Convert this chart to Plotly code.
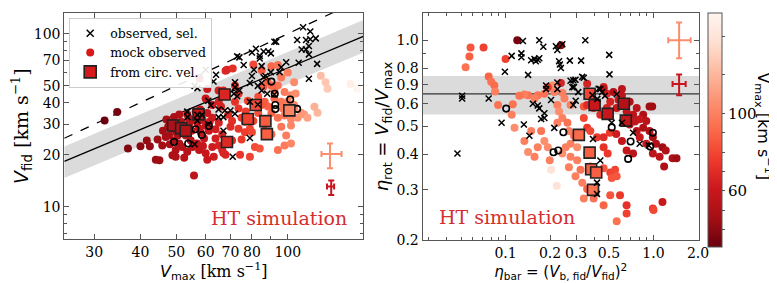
import plotly.graph_objects as go
import numpy as np

# ---------------- data: left panel (Vmax vs Vfid) ----------------
obs_vmax = [110,115,112,115,119,106,114,112,109,114,107,120,114,99,96,95,92,90,88.6,84,84,82,80,74,76,81,85,86,85,90,87,80,79,83,85,88,92,83,79,74,72,71.5,73,72,70,67.6,67,72,65,65,60,64,63,56,57,61,62,58.6,57,53.5,53.6,57,61,67,79,56,71,73,86,93]
obs_vfid = [109,103,92,93,94,92,85,81,81,76,68,67,55,68.5,64,60,90,77,79,72,74.5,82,78,73,66,62,65,56,52,60,57,57,52,50,47,45,44.6,39,40.5,47,49,45,43.5,52.5,36,36,33,34.5,33,36.5,62,58,53,50,48.5,41,38.6,34,34,35.5,33,31.5,30,27.5,25,23,19.5,74,79,90]

mock_vmax = [32,34.6,37,40,41.6,42.4,44,45,55.8,
             48.3,48.8,47.8,49.3,50.4,50.9,49.8,51.9,53.5,55.3,54.7,53,52.4,54.1,55.3,56.9,58.8,60,61.2,58.2,59.4,56.9,57.6,60,62.5,63.8,65.1,66.5,63.8,65.1,62.5,60.6,56.4,53.5,50.9,49.3,48.8,49.8,45.8,46.8,63.1,67.9,66.5,47.5,51.5,52,55,57.5,50,54,58,61.5,48,46,44.5,47,52.5,59,
             60,62.5,65.1,68.5,71,67,73.6,72,73.6,75,76.6,70.7,73.6,79,80.7,83.2,76.6,80,81.5,84,79,74.3,67,70.7,60.6,57.8,72,80.7,85,67.9,65,60.6,69,66,77,78,70,75,
             90.3,94,96,94,98,102,100,104,96,92,88.4,86.6,90.3,94,98,102,106.4,110.8,104,108.6,120.3,113,102,96,99,98,94,102,90.3,86.6,85,83.2,85.8,90.3,100,104,105,122.8,128,126.5,147.7,153.8,118,92,88,97]
mock_vfid = [31.5,35.3,21.7,22.4,24.2,22.4,18.7,18.6,15.2,
             30.6,28.1,25.8,24.2,25.8,23.2,21.3,22.2,20.8,22.2,24.2,25.8,28.1,30,31.8,30.8,31.8,29.4,27.5,26.9,24.8,23.2,21.3,20.4,22.2,24.8,22.6,26.3,28.1,30.6,32.7,34.8,35.6,34.2,34.2,33,19.9,19.5,22.6,25.3,19.5,20,21.3,29,31,26.8,27.5,28.5,27,32.5,36.5,31,23,27.5,24.5,32,19.2,22.5,
             42.3,38.8,40.5,62,63,47,45,40.5,37,32.7,31,31.3,28.3,28.3,31.3,34.8,27,27,22.2,21.7,19.5,20,20.5,24.2,18.7,55.2,50.2,66.5,61.6,61.2,47,48,34,38,35.5,41,29,24.5,
             65,66,55.8,50.2,46.1,44.2,40.5,38.8,40.5,42.3,38,40.5,34.8,32.7,33.7,32.2,32.7,34.2,37.2,35,35,32.7,29.5,29,25.8,22.6,21.3,23.2,26.3,27.5,38.8,43.2,49.4,50.2,59.7,52.5,45.1,57.2,48.1,52.5,51.2,48.1,37.9,47,53,37]

ring_vmax = [49.3,53.8,56.3,58.6,61.2,90.3,92.2,101.5,92.5,92.5,106]
ring_vfid = [23.7,23.2,28.1,26,29.3,52.9,45,41.7,38.8,36.7,36.8]

circ_vmax = [49,51.5,53,57.4,67.5,68.5,78,81.9,87,87.8,101]
circ_vfid = [29.5,28.5,27.5,34.2,44.6,23.7,32.2,38.8,31.3,26.3,36.1]

line_vmax = [24.9, 160]
one_to_one = [24.9, 160]
fit_vfid = [18.3, 96.6]
band_lo = [14.7, 78]
band_hi = [22.3, 120]

err_vmax = [130, 131]
err_vfid = [20.2, 13.1]
err_vmax_plus = [9.7, 2.4]
err_vmax_minus = [6.7, 3.4]
err_vfid_plus = [3.0, 1.1]
err_vfid_minus = [3.5, 1.4]

# ---------------- data: right panel (eta_bar vs eta_rot) ----------------
obs_ebar = [0.0473,0.0509,0.0509,0.0769,0.094,0.099,0.11,0.128,0.128,0.131,0.133,0.142,0.149,0.157,0.16,0.165,0.169,0.169,0.18,0.153,0.145,0.165,0.169,0.174,0.183,0.188,0.188,0.203,0.219,0.224,0.23,0.233,0.2366,0.242,0.224,0.224,0.2135,0.183,0.272,0.275,0.287,0.29,0.297,0.324,0.346,0.33,0.338,0.31,0.298,0.287,0.283,0.426,0.437,0.386,0.417,0.45,0.47,0.502,0.504,0.564,0.522,0.612,0.728,0.807,0.93,0.39,0.437,0.415,0.415]
obs_erot = [0.402,0.64,0.626,0.626,0.515,0.776,0.882,0.90,0.873,0.995,0.508,0.757,0.851,0.86,0.845,0.855,1.0,0.866,0.949,0.60,0.464,0.592,0.578,0.531,0.556,0.675,0.695,0.618,0.953,0.925,0.845,0.823,0.80,0.969,0.712,0.675,0.494,0.535,0.849,0.722,0.725,0.686,0.728,0.849,1.0,0.745,0.74,0.659,0.615,0.594,0.686,0.677,0.675,0.643,0.624,0.66,0.64,0.889,0.76,0.648,0.515,0.515,0.475,0.435,0.429,0.452,0.38,0.318,0.29]

mock_ebar = [0.058,0.057,0.0537,0.071,0.1,0.0769,0.08,0.084,0.085,0.089,0.112,0.11,0.115,0.134,0.149,0.142,0.165,0.157,0.183,0.174,0.193,0.199,0.203,0.222,0.2135,0.208,0.242,0.25,0.275,0.142,0.134,0.124,0.165,0.157,0.183,0.224,0.23,0.242,0.262,0.224,0.268,0.29,0.275,0.305,0.255,0.242,0.275,0.305,0.268,0.321,0.297,0.33,0.356,0.338,0.394,0.356,0.374,
             0.338,0.356,0.374,0.415,0.46,0.507,0.46,0.49,0.437,0.484,0.564,0.51,0.338,0.356,0.394,0.46,0.484,0.356,0.51,0.55,0.564,0.522,0.594,0.658,0.658,0.564,0.46,0.51,0.2366,0.193,0.46,
             0.12,0.2366,
             0.46,0.536,0.612,0.69,0.77,0.852,0.94,0.894,0.807,0.728,0.658,0.624,0.69,0.77,0.852,0.94,0.99,1.04,1.15,1.21,1.345,1.43,1.18,1.1,0.99,0.894,0.807,0.612,0.658,0.728,0.612,0.98,1.15,0.99,1.0,0.58,0.56,0.75]
mock_erot = [0.944,0.877,0.805,0.944,0.86,0.747,0.716,0.695,0.662,0.594,0.597,0.549,0.495,0.445,0.482,0.407,0.423,0.392,0.445,0.482,0.423,0.381,0.353,0.31,0.659,0.695,0.655,0.626,0.594,0.643,0.646,0.64,0.643,0.626,0.65,0.594,0.564,0.535,0.515,0.515,0.482,0.464,0.435,0.423,0.423,0.402,0.392,0.381,0.36,0.353,0.335,0.318,0.302,0.28,0.28,0.402,0.362,
             0.535,0.495,0.482,0.458,0.458,0.475,0.423,0.402,0.549,0.58,0.58,0.61,0.587,0.594,0.58,0.686,0.65,0.705,0.345,0.353,0.335,0.33,0.287,0.265,0.248,0.233,0.265,0.287,0.709,0.685,0.357,
             1.0,0.96,
             0.675,0.659,0.64,0.61,0.58,0.549,0.587,0.522,0.53,0.549,0.564,0.594,0.508,0.482,0.495,0.482,0.458,0.435,0.423,0.412,0.387,0.387,0.362,0.392,0.402,0.435,0.458,0.445,0.412,0.402,0.675,0.587,0.272,0.258,0.255,0.62,0.47,0.52]
mock_vmax_r = [85,88,95,78,78,90,95,92,100,95,95,100,105,100,100,105,100,100,105,95,105,100,140,140,100,105,100,100,100,95,100,95,95,100,95,100,105,100,95,100,100,95,100,105,100,105,100,100,100,95,100,100,90,100,95,95,90,
               80,75,80,75,70,75,72,75,70,65,60,65,85,70,72,65,68,65,78,80,85,85,75,72,78,95,90,85,65,75,85,
               35,40,
               55,50,55,50,55,50,45,55,60,55,55,60,55,55,50,50,48,50,45,50,50,45,50,55,55,60,60,58,60,55,55,45,60,75,80,62,62,58]

ring_ebar = [0.101,0.246,0.211,0.227,0.522,0.7,0.674,0.95,0.99]
ring_erot = [0.577,0.477,0.406,0.412,0.496,0.443,0.385,0.425,0.475]

circ_ebar = [0.37,0.4,0.63,0.49,0.65,0.313,0.37,0.379,0.41,0.39]
circ_erot = [0.65,0.594,0.6,0.553,0.524,0.467,0.405,0.354,0.345,0.3]
circ_vmax_r = [80,60,52,60,58,92,88,88,88,95]

eta_rot_fit = [0.65]
eta_rot_band = [0.55, 0.75]

err_ebar = [1.49, 1.49]
err_erot = [1.0, 0.703]
err_ebar_plus = [0.293, 0.16]
err_ebar_minus = [0.231, 0.145]
err_erot_plus = [0.154, 0.057]
err_erot_minus = [0.134, 0.06]

# ---------------- styling ----------------
reds_r = [[0, '#67000d'], [0.125, '#a50f15'], [0.25, '#cb181d'], [0.375, '#ef3b2c'],
          [0.5, '#fb6a4a'], [0.625, '#fc9272'], [0.75, '#fcbba1'], [0.875, '#fee0d2'], [1, '#fff5f0']]
CMIN, CMAX = 31, 152
SERIF = 'DejaVu Serif'
SANS = 'DejaVu Sans'
ERR_COLORS = ['#fc8d6d', '#c8141e']
DOT = 8

fig = go.Figure()

# left panel band + lines
fig.add_trace(go.Scatter(x=line_vmax, y=band_lo, mode='lines', line=dict(width=0), showlegend=False,
                         xaxis='x', yaxis='y', hoverinfo='skip'))
fig.add_trace(go.Scatter(x=line_vmax, y=band_hi, mode='lines', line=dict(width=0), fill='tonexty',
                         fillcolor='rgba(190,190,190,0.55)', showlegend=False, xaxis='x', yaxis='y'))
fig.add_trace(go.Scatter(x=line_vmax, y=fit_vfid, mode='lines', line=dict(color='black', width=1.3),
                         showlegend=False, xaxis='x', yaxis='y'))
fig.add_trace(go.Scatter(x=line_vmax, y=one_to_one, mode='lines', line=dict(color='black', width=1.3, dash='dash'),
                         showlegend=False, xaxis='x', yaxis='y'))

def mock(x, y, c, ax, ay, cbar=False):
    m = dict(size=DOT, color=c, colorscale=reds_r, cmin=CMIN, cmax=CMAX, line=dict(width=0))
    if cbar:
        m['showscale'] = True
        m['colorbar'] = dict(x=709/777, xanchor='left', y=1-5/283, yanchor='top', len=234, lenmode='pixels',
                             xpad=0, ypad=0,
                             thickness=14, thicknessmode='pixels', outlinewidth=1, outlinecolor='#555',
                             tickvals=[40, 50, 60, 70, 80, 90, 100, 120, 140],
                             ticktext=['', '', '60', '', '', '', '100', '', ''], ticks='outside', ticklen=3,
                             tickcolor='#555',
                             tickfont=dict(family=SERIF, size=15, color='black'))
    return go.Scatter(x=x, y=y, mode='markers', marker=m, showlegend=False, xaxis=ax, yaxis=ay)

fig.add_trace(mock(mock_vmax, mock_vfid, mock_vmax, 'x', 'y'))
fig.add_trace(go.Scatter(x=ring_vmax, y=ring_vfid, mode='markers',
                         marker=dict(symbol='circle-open', size=6.5, color='black', line=dict(width=1.6)),
                         showlegend=False, xaxis='x', yaxis='y'))
fig.add_trace(go.Scatter(x=circ_vmax, y=circ_vfid, mode='markers',
                         marker=dict(symbol='square', size=11, color=circ_vmax, colorscale=reds_r, cmin=CMIN, cmax=CMAX,
                                     line=dict(color='#222', width=1.6)),
                         showlegend=False, xaxis='x', yaxis='y'))
fig.add_trace(go.Scatter(x=obs_vmax, y=obs_vfid, mode='markers',
                         marker=dict(symbol='x-thin', size=6, line=dict(color='black', width=1.5)),
                         showlegend=False, xaxis='x', yaxis='y'))
for i in range(2):
    fig.add_trace(go.Scatter(x=[err_vmax[i]], y=[err_vfid[i]], mode='markers', marker=dict(size=1, opacity=0),
                             error_x=dict(type='data', symmetric=False, array=[err_vmax_plus[i]], arrayminus=[err_vmax_minus[i]],
                                          color=ERR_COLORS[i], thickness=2, width=3),
                             error_y=dict(type='data', symmetric=False, array=[err_vfid_plus[i]], arrayminus=[err_vfid_minus[i]],
                                          color=ERR_COLORS[i], thickness=2, width=3),
                             showlegend=False, xaxis='x', yaxis='y'))

# right panel
fig.add_trace(mock(mock_ebar, mock_erot, mock_vmax_r, 'x2', 'y2', cbar=True))
fig.add_trace(go.Scatter(x=ring_ebar, y=ring_erot, mode='markers',
                         marker=dict(symbol='circle-open', size=6.5, color='black', line=dict(width=1.6)),
                         showlegend=False, xaxis='x2', yaxis='y2'))
fig.add_trace(go.Scatter(x=circ_ebar, y=circ_erot, mode='markers',
                         marker=dict(symbol='square', size=11, color=circ_vmax_r, colorscale=reds_r, cmin=CMIN, cmax=CMAX,
                                     line=dict(color='#222', width=1.6)),
                         showlegend=False, xaxis='x2', yaxis='y2'))
fig.add_trace(go.Scatter(x=obs_ebar, y=obs_erot, mode='markers',
                         marker=dict(symbol='x-thin', size=6, line=dict(color='black', width=1.5)),
                         showlegend=False, xaxis='x2', yaxis='y2'))
for i in range(2):
    fig.add_trace(go.Scatter(x=[err_ebar[i]], y=[err_erot[i]], mode='markers', marker=dict(size=1, opacity=0),
                             error_x=dict(type='data', symmetric=False, array=[err_ebar_plus[i]], arrayminus=[err_ebar_minus[i]],
                                          color=ERR_COLORS[i], thickness=2, width=3),
                             error_y=dict(type='data', symmetric=False, array=[err_erot_plus[i]], arrayminus=[err_erot_minus[i]],
                                          color=ERR_COLORS[i], thickness=2, width=3),
                             showlegend=False, xaxis='x2', yaxis='y2'))

# legend entries
fig.add_trace(go.Scatter(x=[None], y=[None], mode='markers', name='observed, sel.',
                         marker=dict(symbol='x-thin', size=7, line=dict(color='black', width=1.5))))
fig.add_trace(go.Scatter(x=[None], y=[None], mode='markers', name='mock observed',
                         marker=dict(size=8, color='#d7191c')))
fig.add_trace(go.Scatter(x=[None], y=[None], mode='markers', name='from circ. vel.',
                         marker=dict(symbol='square', size=12, color='#d7191c', line=dict(color='#222', width=1.6))))

shapes = [
    dict(type='rect', xref='x2 domain', yref='y2', x0=0, x1=1, y0=eta_rot_band[0], y1=eta_rot_band[1],
         fillcolor='rgba(190,190,190,0.55)', line=dict(width=0), layer='below'),
    dict(type='line', xref='x2 domain', yref='y2', x0=0, x1=1, y0=eta_rot_fit[0], y1=eta_rot_fit[0],
         line=dict(color='#333', width=1.3), layer='below'),
]

axis_common = dict(type='log', showline=True, linecolor='#555', linewidth=1, mirror='allticks',
                   ticks='inside', ticklen=5, tickcolor='#555', showgrid=False, zeroline=False,
                   tickfont=dict(family=SERIF, size=14, color='black'))

def minor(vals):
    return dict(tickmode='array', tickvals=vals, ticks='inside', ticklen=3, tickcolor='#555', showgrid=False)

fig.update_layout(
    width=777, height=283, margin=dict(l=0, r=0, t=0, b=0),
    paper_bgcolor='white', plot_bgcolor='white',
    shapes=shapes,
    xaxis=dict(axis_common, domain=[57/777, 360/777], range=[np.log10(24.9), np.log10(160)], anchor='y',
               tickvals=[30, 40, 50, 60, 70, 80, 100], ticktext=['30', '40', '50', '60', '70', '80', '100'],
               minor=minor([90, 200]),
               title=dict(text='<span style="font-family:DejaVu Sans"><i>V</i><sub>max</sub></span> [km s<sup>−1</sup>]',
                          font=dict(family=SERIF, size=16, color='black'), standoff=4)),
    yaxis=dict(axis_common, domain=[1-238/283, 1-5/283], range=[np.log10(6.5), np.log10(132)], anchor='x',
               tickvals=[10, 20, 30, 40, 50, 70, 100], ticktext=['10', '20', '30', '40', '50', '70', '100'],
               minor=minor([7, 8, 9, 60, 80, 90]),
               title=dict(text='<span style="font-family:DejaVu Sans"><i>V</i><sub>fid</sub></span> [km s<sup>−1</sup>]',
                          font=dict(family=SERIF, size=19, color='black'), standoff=3)),
    xaxis2=dict(axis_common, domain=[420/777, 700/777], range=[np.log10(0.0275), np.log10(2.03)], anchor='y2',
                tickvals=[0.1, 0.2, 0.3, 0.5, 1.0, 2.0], ticktext=['0.1', '0.2', '0.3', '0.5', '1.0', '2.0'],
                minor=minor([0.03, 0.04, 0.05, 0.06, 0.07, 0.08, 0.09, 0.4, 0.6, 0.7, 0.8, 0.9]),
                title=dict(text='<i>η</i><sub>bar</sub> = (<i>V</i><sub>b, fid</sub>/<i>V</i><sub>fid</sub>)<sup>2</sup>',
                           font=dict(family=SANS, size=15, color='black'), standoff=4)),
    yaxis2=dict(axis_common, domain=[1-239/283, 1-5/283], range=[np.log10(0.2), np.log10(1.247)], anchor='x2',
                tickvals=[0.2, 0.3, 0.4, 0.5, 0.6, 0.7, 0.8, 1.0], ticktext=['0.2', '0.3', '0.4', '0.5', '0.6', '0.9', '0.8', '1.0'],
                minor=minor([0.9]),
                title=dict(text='<i>η</i><sub>rot</sub> = <i>V</i><sub>fid</sub>/<i>V</i><sub>max</sub>',
                           font=dict(family=SANS, size=18, color='black'), standoff=3)),
    legend=dict(x=62/777, y=1-10/283, xanchor='left', yanchor='top', bgcolor='rgba(255,255,255,0.9)',
                bordercolor='#cccccc', borderwidth=1, font=dict(family=SERIF, size=12.5, color='black'),
                itemwidth=30, tracegroupgap=0, traceorder='normal'),
    annotations=[
        dict(text='HT simulation', x=275/777, y=1-216/283, xref='paper', yref='paper', showarrow=False,
             xanchor='center', yanchor='middle', font=dict(family=SERIF, size=19, color='#d62d2d')),
        dict(text='HT simulation', x=505/777, y=1-215/283, xref='paper', yref='paper', showarrow=False,
             xanchor='center', yanchor='middle', font=dict(family=SERIF, size=19, color='#d62d2d')),
        dict(text='V<sub>max</sub> [km s<sup>−1</sup>]', x=765/777, y=1-122/283, xref='paper', yref='paper',
             xanchor='center', yanchor='middle',
             showarrow=False, textangle=90, font=dict(family=SANS, size=16, color='black')),
    ],
)

fig.write_html('out.html')
